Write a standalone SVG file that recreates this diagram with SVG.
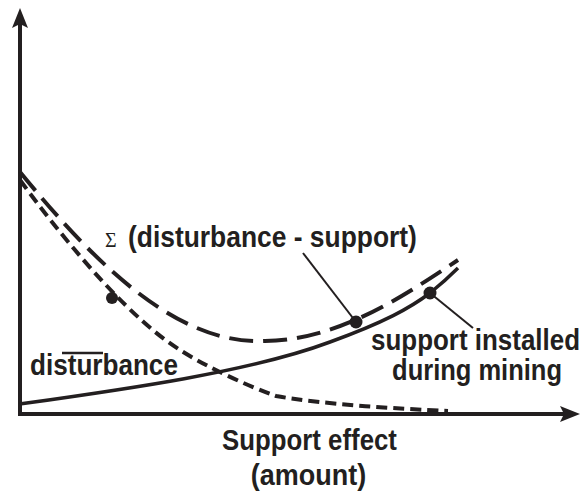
<svg xmlns="http://www.w3.org/2000/svg" width="586" height="498" viewBox="0 0 586 498">
  <style>
    .lbl { font-family: "Liberation Sans", Arial, sans-serif; font-size: 30px; fill: #231f20; font-weight: bold; }
    .sigma { font-family: "Liberation Serif", "Times New Roman", serif; font-size: 20px; fill: #231f20; }
    .axis { fill: none; stroke: #231f20; stroke-width: 4; stroke-linejoin: miter; }
    .solid { fill: none; stroke: #231f20; stroke-width: 3.5; stroke-linecap: butt; }
    .longdash { fill: none; stroke: #231f20; stroke-width: 4; stroke-dasharray: 24 10; }
    .shortdash { fill: none; stroke: #231f20; stroke-width: 4; stroke-dasharray: 11 6; }
    .leader { fill: none; stroke: #231f20; stroke-width: 2; }
    .dot { fill: #231f20; }
  </style>
  <defs>
    <marker id="arrow" viewBox="0 0 20 16" markerWidth="20" markerHeight="16" refX="6" refY="8" markerUnits="userSpaceOnUse" orient="auto-start-reverse">
      <path d="M0,0 L20,8 L0,16 L4,8 Z" fill="#231f20"/>
    </marker>
  </defs>
  <rect width="586" height="498" fill="#ffffff"/>

  <g id="axes">
    <path class="axis" d="M20,22 L20,414 L566,414" marker-start="url(#arrow)" marker-end="url(#arrow)"/>
  </g>

  <g id="curves">
    <path id="sum-curve" class="longdash" d="M20,172 C100,270 180,345 265,341 C340,340 405,295 458,260"/>
    <path id="disturbance-curve" class="shortdash" d="M20,180 C75,255 135,322 180,350 C205,366 245,385 276,396 C320,404 400,409 448,411"/>
    <path id="support-curve" class="solid" d="M20,404 C120,390 250,372 330,342 C385,322 410,308 430,293 C440,285 450,276 458,268"/>
  </g>

  <g id="connectors">
    <line class="leader" x1="303" y1="253" x2="356" y2="322"/>
    <line class="leader" x1="430" y1="293" x2="473" y2="328"/>
    <circle class="dot" cx="356" cy="322" r="6.5"/>
    <circle class="dot" cx="430" cy="293" r="6.5"/>
    <circle class="dot" cx="112" cy="298" r="6"/>
  </g>

  <g id="label-sum">
    <text class="sigma" x="105" y="247">Σ</text>
    <text class="lbl" transform="translate(128,247) scale(0.88,1)" x="0" y="0">(disturbance - support)</text>
  </g>

  <g id="label-disturbance">
    <text class="lbl" transform="translate(30,375) scale(0.87,1)" x="0" y="0">disturbance</text>
    <line x1="62" y1="353" x2="103" y2="353" stroke="#231f20" stroke-width="2.5"/>
  </g>

  <g id="label-support">
    <text class="lbl" transform="translate(580,350) scale(0.865,1)" x="0" y="0" text-anchor="end">support installed</text>
    <text class="lbl" transform="translate(562,380) scale(0.85,1)" x="0" y="0" text-anchor="end">during mining</text>
  </g>

  <g id="label-axis-x">
    <text class="lbl" transform="translate(309.5,450) scale(0.86,1)" x="0" y="0" text-anchor="middle">Support effect</text>
    <text class="lbl" transform="translate(308.5,485) scale(0.9,1)" x="0" y="0" text-anchor="middle">(amount)</text>
  </g>
</svg>
